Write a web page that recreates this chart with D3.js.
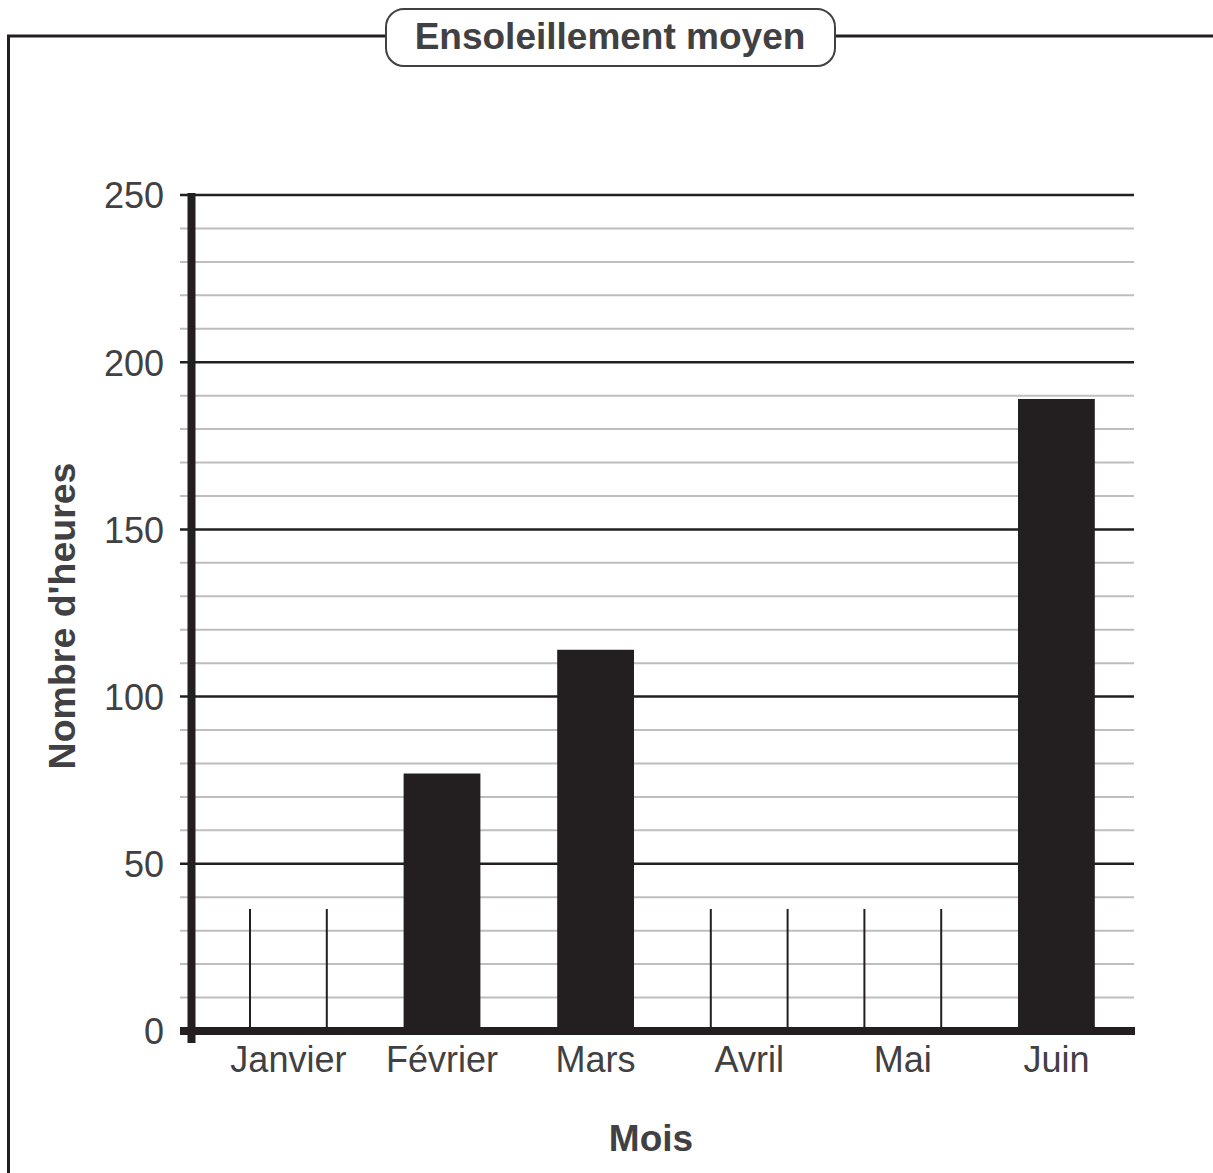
<!DOCTYPE html>
<html>
<head>
<meta charset="utf-8">
<script src="https://cdn.jsdelivr.net/npm/d3@7"></script>
<style>
  html, body { margin: 0; padding: 0; background: #fff; }
  svg { display: block; }
  text { font-family: "Liberation Sans", Arial, Helvetica, sans-serif; }
</style>
</head>
<body>
<svg id="chart" width="1213" height="1173"></svg>
<script>
// ---- data ----
const title = "Ensoleillement moyen";
const xTitle = "Mois";
const yTitle = "Nombre d'heures";
const months = ["Janvier", "Février", "Mars", "Avril", "Mai", "Juin"];
const hours = [null, 77, 114, null, null, 189];   // null = bar left blank (to complete)
const blankGuide = 36.5;                           // height of the guide lines of blank bars
const yMajorTicks = [0, 50, 100, 150, 200, 250];
const yMinorTicks = [10, 20, 30, 40, 60, 70, 80, 90, 110, 120, 130, 140, 160, 170, 180, 190, 210, 220, 230, 240];

// ---- setup ----
const svg = d3.select("#chart");
const dark = "#231f20";
const textCol = "#414042";
const gridGray = "#bcbec0";

const x = d3.scaleBand().domain(months).range([211.6, 1133.2]).paddingInner(0.5).paddingOuter(0.25);
const y = d3.scaleLinear().domain([0, 250]).range([1031, 195]);
const gridX0 = 180, gridX1 = 1134;

// ---- frame with title ----
svg.append("path")
  .attr("d", "M8.5,1173 L8.5,36 L385,36 M835,36 L1213,36")
  .attr("fill", "none").attr("stroke", dark).attr("stroke-width", 3);
svg.append("rect")
  .attr("x", 386).attr("y", 9).attr("width", 449).attr("height", 57)
  .attr("rx", 18).attr("ry", 18)
  .attr("fill", "#fff").attr("stroke", "#414042").attr("stroke-width", 2);
svg.append("text")
  .attr("x", 610).attr("y", 49).attr("text-anchor", "middle")
  .attr("font-size", 37).attr("font-weight", "bold").attr("fill", textCol)
  .text(title);

// ---- gridlines ----
svg.append("g").selectAll("line").data(yMinorTicks).join("line")
  .attr("x1", gridX0).attr("x2", gridX1)
  .attr("y1", d => y(d)).attr("y2", d => y(d))
  .attr("stroke", gridGray).attr("stroke-width", 2);
svg.append("g").selectAll("line").data(yMajorTicks.filter(d => d > 0)).join("line")
  .attr("x1", gridX0).attr("x2", gridX1)
  .attr("y1", d => y(d)).attr("y2", d => y(d))
  .attr("stroke", dark).attr("stroke-width", 2.5);

// ---- bars ----
const data = months.map((m, i) => ({ m, v: hours[i] }));
svg.append("g").selectAll("rect").data(data.filter(d => d.v != null)).join("rect")
  .attr("x", d => x(d.m)).attr("width", x.bandwidth())
  .attr("y", d => y(d.v)).attr("height", d => y(0) - y(d.v))
  .attr("fill", dark);

// blank bars: two vertical guide lines
const blanks = data.filter(d => d.v == null);
const guides = svg.append("g");
blanks.forEach(d => {
  [x(d.m), x(d.m) + x.bandwidth()].forEach(px => {
    guides.append("line")
      .attr("x1", px).attr("x2", px)
      .attr("y1", y(blankGuide)).attr("y2", y(0))
      .attr("stroke", dark).attr("stroke-width", 2);
  });
});

// ---- axes ----
const yAxis = svg.append("g").attr("transform", "translate(164,0)")
  .call(d3.axisLeft(y).tickValues(yMajorTicks).tickSize(0).tickPadding(0));
yAxis.select(".domain").remove();
yAxis.selectAll("text").attr("font-size", 36).attr("fill", textCol)
  .attr("font-family", "'Liberation Sans', Arial, sans-serif")
  .attr("dy", "0.36em");

const xAxis = svg.append("g").attr("transform", "translate(0,1072)")
  .call(d3.axisBottom(x).tickSize(0).tickPadding(0));
xAxis.select(".domain").remove();
xAxis.selectAll("text").attr("font-size", 36).attr("fill", textCol)
  .attr("font-family", "'Liberation Sans', Arial, sans-serif")
  .attr("dy", 0);

// axis lines (thick)
svg.append("line").attr("x1", gridX0).attr("x2", 1135)
  .attr("y1", y(0)).attr("y2", y(0))
  .attr("stroke", dark).attr("stroke-width", 8);
svg.append("line").attr("x1", 191.5).attr("x2", 191.5)
  .attr("y1", 193).attr("y2", 1043)
  .attr("stroke", dark).attr("stroke-width", 8);

// ---- axis titles ----
svg.append("text")
  .attr("transform", "translate(75,616) rotate(-90)")
  .attr("text-anchor", "middle")
  .attr("font-size", 37.5).attr("font-weight", "bold").attr("fill", textCol)
  .text(yTitle);
svg.append("text")
  .attr("x", 651).attr("y", 1151).attr("text-anchor", "middle")
  .attr("font-size", 37).attr("font-weight", "bold").attr("fill", textCol)
  .text(xTitle);
</script>
</body>
</html>
